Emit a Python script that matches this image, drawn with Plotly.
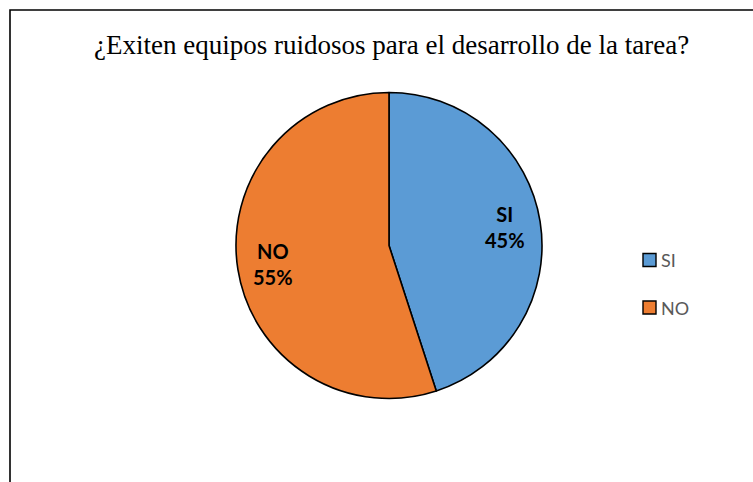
import math
import plotly.graph_objects as go

# Survey answers
labels = ["SI", "NO"]
values = [45, 55]
colors = ["#5B9BD5", "#ED7D31"]
title_text = "¿Exiten equipos ruidosos para el desarrollo de la tarea?"

W, H = 753, 482
cx_px, cy_px, r_px = 389, 245.5, 153

fig = go.Figure(
    go.Pie(
        labels=labels,
        values=values,
        marker=dict(colors=colors, line=dict(color="black", width=1.6)),
        sort=False,
        direction="clockwise",
        rotation=0,
        textinfo="none",
        hoverinfo="label+percent",
        showlegend=False,
        domain=dict(
            x=[(cx_px - r_px) / W, (cx_px + r_px) / W],
            y=[1 - (cy_px + r_px) / H, 1 - (cy_px - r_px) / H],
        ),
    )
)

annotations = []
# Slice labels placed along each slice's mid angle
total = sum(values)
start = 0.0
for lab, val in zip(labels, values):
    frac = val / total
    mid = (start + frac / 2) * 2 * math.pi
    start += frac
    lx = cx_px + 0.77 * r_px * math.sin(mid)
    ly = cy_px - 0.77 * r_px * math.cos(mid)
    annotations.append(dict(
        x=lx / W, y=1 - ly / H, xref="paper", yref="paper",
        text=f"<b>{lab}</b><br><b>{round(frac * 100)}%</b>",
        showarrow=False, xanchor="center", yanchor="middle",
        font=dict(family="Lato", size=20, color="black"),
    ))

# Title
annotations.append(dict(
    x=391 / W, y=1 - 45 / H, xref="paper", yref="paper",
    text=title_text, showarrow=False, xanchor="center", yanchor="middle",
    font=dict(family="Liberation Serif", size=27, color="black"),
))

shapes = [
    # chart frame
    dict(type="rect", xref="paper", yref="paper",
         x0=10 / W, x1=1.2, y0=-0.2, y1=1 - 10 / H,
         line=dict(color="black", width=1.6), fillcolor="rgba(0,0,0,0)"),
]

# Legend drawn as swatches
leg_x, leg_y0, leg_dy, sw = 643, 260, 47.5, 13
for i, (lab, col) in enumerate(zip(labels, colors)):
    yc = leg_y0 + i * leg_dy
    shapes.append(dict(
        type="rect", xref="paper", yref="paper",
        x0=leg_x / W, x1=(leg_x + sw) / W,
        y0=1 - (yc + sw / 2) / H, y1=1 - (yc - sw / 2) / H,
        fillcolor=col, line=dict(color="black", width=1.4),
    ))
    annotations.append(dict(
        x=(leg_x + sw + 3) / W, y=1 - yc / H, xref="paper", yref="paper",
        text=lab, showarrow=False, xanchor="left", yanchor="middle",
        font=dict(family="Lato", size=18, color="#595959"),
    ))

fig.update_layout(
    width=W, height=H,
    margin=dict(l=0, r=0, t=0, b=0),
    paper_bgcolor="white", plot_bgcolor="white",
    annotations=annotations, shapes=shapes,
)

fig.write_html("out.html")
